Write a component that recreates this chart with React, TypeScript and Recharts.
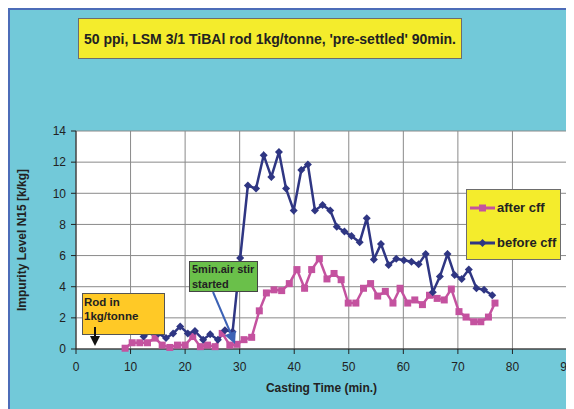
import React from "react";
import {
  LineChart,
  Line,
  XAxis,
  YAxis,
  CartesianGrid,
  Legend,
} from "recharts";

// casting time (min.) and impurity level
const afterTimes = [
  9.0, 10.3, 11.7, 13.1, 14.5, 15.8, 17.2, 18.6, 20.0, 21.4, 22.8, 24.1, 25.5,
  26.8, 28.2, 29.5, 30.8, 32.2, 33.6, 34.9, 36.3, 37.7, 39.1, 40.5, 41.9, 43.2,
  44.6, 46.0, 47.3, 48.6, 49.9, 51.3, 52.7, 54.0, 55.3, 56.7, 58.1, 59.4, 60.8,
  62.1, 63.5, 64.8, 66.2, 67.5, 68.8, 70.2, 71.5, 72.9, 74.2, 75.6, 76.8,
];
const afterValues = [
  0.05, 0.4, 0.4, 0.4, 0.7, 0.25, 0.1, 0.25, 0.25, 0.8, 0.15, 0.25, 0.15, 1.0,
  0.25, 0.3, 0.6, 0.75, 2.45, 3.6, 3.8, 3.75, 4.2, 5.1, 3.9, 5.1, 5.8, 4.5,
  4.85, 4.45, 2.95, 2.95, 3.9, 4.2, 3.4, 3.7, 2.95, 3.9, 2.95, 3.15, 2.85, 3.45,
  3.25, 3.15, 3.85, 2.4, 2.05, 1.75, 1.75, 2.05, 2.95,
];

const beforeTimes = [
  12.4, 13.8, 15.1, 16.5, 17.8, 19.1, 20.5, 21.8, 23.3, 24.6, 26.0, 27.3, 28.7,
  30.1, 31.5, 33.0, 34.4, 35.8, 37.2, 38.5, 39.9, 41.3, 42.5, 43.8, 45.2, 46.6,
  47.8, 49.2, 50.5, 52.0, 53.3, 54.6, 55.9, 57.3, 58.7, 60.1, 61.5, 62.8, 64.1,
  65.4, 66.7, 68.1, 69.4, 70.7, 72.0, 73.4, 74.8, 76.3,
];
const beforeValues = [
  0.8, 1.1, 1.0, 0.7, 1.0, 1.45, 1.0, 1.15, 0.6, 0.95, 0.6, 1.2, 1.1, 5.85,
  10.5, 10.3, 12.45, 11.05, 12.65, 10.3, 8.9, 11.5, 11.85, 8.9, 9.25, 8.9, 7.85,
  7.55, 7.25, 6.85, 8.4, 5.75, 6.75, 5.4, 5.8, 5.7, 5.6, 5.45, 6.1, 3.65, 4.65,
  6.1, 4.75, 4.5, 5.1, 3.9, 3.8, 3.45,
];

const xTicks = [0, 10, 20, 30, 40, 50, 60, 70, 80, 90];
const yTicks = [0, 2, 4, 6, 8, 10, 12, 14];

const afterData = afterTimes.map((t, i) => ({ t, v: afterValues[i] }));
const beforeData = beforeTimes.map((t, i) => ({ t, v: beforeValues[i] }));

const PINK = "#C4529F";
const NAVY = "#2F3683";
const FONT = "'Liberation Sans', Arial, sans-serif";

const SquareDot = (props: any) => {
  const { cx, cy } = props;
  if (cx == null || cy == null) return null;
  return <rect x={cx - 3.5} y={cy - 3.5} width={7} height={7} fill={PINK} />;
};

const DiamondDot = (props: any) => {
  const { cx, cy } = props;
  if (cx == null || cy == null) return null;
  return (
    <polygon
      points={`${cx},${cy - 4} ${cx + 4},${cy} ${cx},${cy + 4} ${cx - 4},${cy}`}
      fill={NAVY}
    />
  );
};

const LegendBox = () => (
  <div
    style={{
      background: "#F4EC2C",
      border: "1px solid #6d6d6d",
      width: 95,
      height: 71,
      boxSizing: "border-box",
      fontFamily: FONT,
      fontWeight: "bold",
      fontSize: 13,
      color: "#222",
      position: "relative",
    }}
  >
    {[
      { name: "after cff", color: PINK, square: true, top: 10 },
      { name: "before cff", color: NAVY, square: false, top: 45 },
    ].map((it) => (
      <div
        key={it.name}
        style={{ position: "absolute", left: 3, top: it.top, display: "flex", alignItems: "center" }}
      >
        <svg width={25} height={14}>
          <line x1={0} y1={7} x2={25} y2={7} stroke={it.color} strokeWidth={3} />
          {it.square ? (
            <rect x={9} y={3.5} width={7} height={7} fill={it.color} />
          ) : (
            <polygon points="12.5,3 16.5,7 12.5,11 8.5,7" fill={it.color} />
          )}
        </svg>
        <span style={{ marginLeft: 2 }}>{it.name}</span>
      </div>
    ))}
  </div>
);

export default function App() {
  return (
    <div
      style={{
        position: "relative",
        width: 566,
        height: 401,
        background: "#72C9D9",
        fontFamily: FONT,
      }}
    >
      <div style={{ position: "absolute", left: 0, top: 0, width: 566, height: 2, background: "#4C6CB8" }} />
      <div style={{ position: "absolute", left: 0, top: 0, width: 2, height: 401, background: "#4C6CB8" }} />

      <LineChart width={566} height={401} margin={{ top: 123, right: 7, bottom: 30, left: 8 }}>
        <CartesianGrid stroke="#8a8a8a" strokeWidth={1} fill="#fff" />
        <XAxis
          dataKey="t"
          type="number"
          domain={[0, 90]}
          ticks={xTicks}
          height={30}
          tickSize={5}
          tickMargin={8}
          stroke="#222"
          tick={{ fill: "#222", fontSize: 12, fontFamily: FONT }}
          allowDataOverflow
          label={{
            value: "Casting Time (min.)",
            position: "bottom",
            offset: 4,
            style: { fill: "#222", fontSize: 12, fontWeight: "bold", fontFamily: FONT },
          }}
        />
        <YAxis
          dataKey="v"
          type="number"
          domain={[0, 14]}
          ticks={yTicks}
          width={60}
          tickSize={5}
          tickMargin={5}
          stroke="#222"
          tick={{ fill: "#222", fontSize: 12, fontFamily: FONT }}
          label={({ viewBox }: any) => {
            const cx = viewBox.x + 6;
            const cy = viewBox.y + viewBox.height / 2;
            return (
              <text
                x={cx}
                y={cy}
                transform={`rotate(-90 ${cx} ${cy})`}
                textAnchor="middle"
                dominantBaseline="central"
                fill="#222"
                fontSize={12}
                fontWeight="bold"
                fontFamily={FONT}
              >
                Impurity Level N15 [k/kg]
              </text>
            );
          }}
        />
        <Legend
          layout="horizontal"
          verticalAlign="middle"
          align="center"
          content={<LegendBox />}
          wrapperStyle={{ position: "absolute", left: 458, top: 181, width: 95, height: 71 }}
        />
        <Line
          data={afterData}
          dataKey="v"
          name="after cff"
          stroke={PINK}
          strokeWidth={2.5}
          dot={<SquareDot />}
          activeDot={false}
          isAnimationActive={false}
        />
        <Line
          data={beforeData}
          dataKey="v"
          name="before cff"
          stroke={NAVY}
          strokeWidth={2.5}
          dot={<DiamondDot />}
          activeDot={false}
          isAnimationActive={false}
        />
      </LineChart>

      {/* title */}
      <div
        style={{
          position: "absolute",
          left: 70,
          top: 10,
          width: 384,
          height: 41,
          boxSizing: "border-box",
          background: "#F4EC2C",
          border: "1px solid #6d6d6d",
          display: "flex",
          alignItems: "center",
          justifyContent: "center",
          fontSize: 14,
          fontWeight: "bold",
          color: "#222",
          whiteSpace: "nowrap",
        }}
      >
        50 ppi, LSM 3/1 TiBAl rod 1kg/tonne, 'pre-settled' 90min.
      </div>

      {/* annotations */}
      <div
        style={{
          position: "absolute",
          left: 74,
          top: 285,
          width: 83,
          height: 42,
          boxSizing: "border-box",
          background: "#FFC926",
          border: "1px solid #555",
          padding: "1px 1px",
          fontSize: 11.5,
          fontWeight: "bold",
          lineHeight: "14px",
          color: "#222",
        }}
      >
        Rod in
        <br />
        1kg/tonne
      </div>
      <div
        style={{
          position: "absolute",
          left: 181,
          top: 253,
          width: 69,
          height: 31,
          boxSizing: "border-box",
          background: "#6AC04A",
          border: "1px solid #444",
          padding: "0px 2px",
          fontSize: 11,
          fontWeight: "bold",
          lineHeight: "15px",
          color: "#222",
          whiteSpace: "nowrap",
        }}
      >
        5min.air stir
        <br />
        started
      </div>
      <svg
        width={566}
        height={401}
        style={{ position: "absolute", left: 0, top: 0, pointerEvents: "none" }}
      >
        <line x1={87} y1={319} x2={87} y2={330} stroke="#111" strokeWidth={2} />
        <polygon points="82,328 92,328 87,338" fill="#111" />
        <line x1={205} y1={284} x2={223} y2={326} stroke="#3C62B5" strokeWidth={2} />
        <polygon points="216.8,327.3 227.8,322.7 227,336" fill="#3C62B5" />
      </svg>
    </div>
  );
}
